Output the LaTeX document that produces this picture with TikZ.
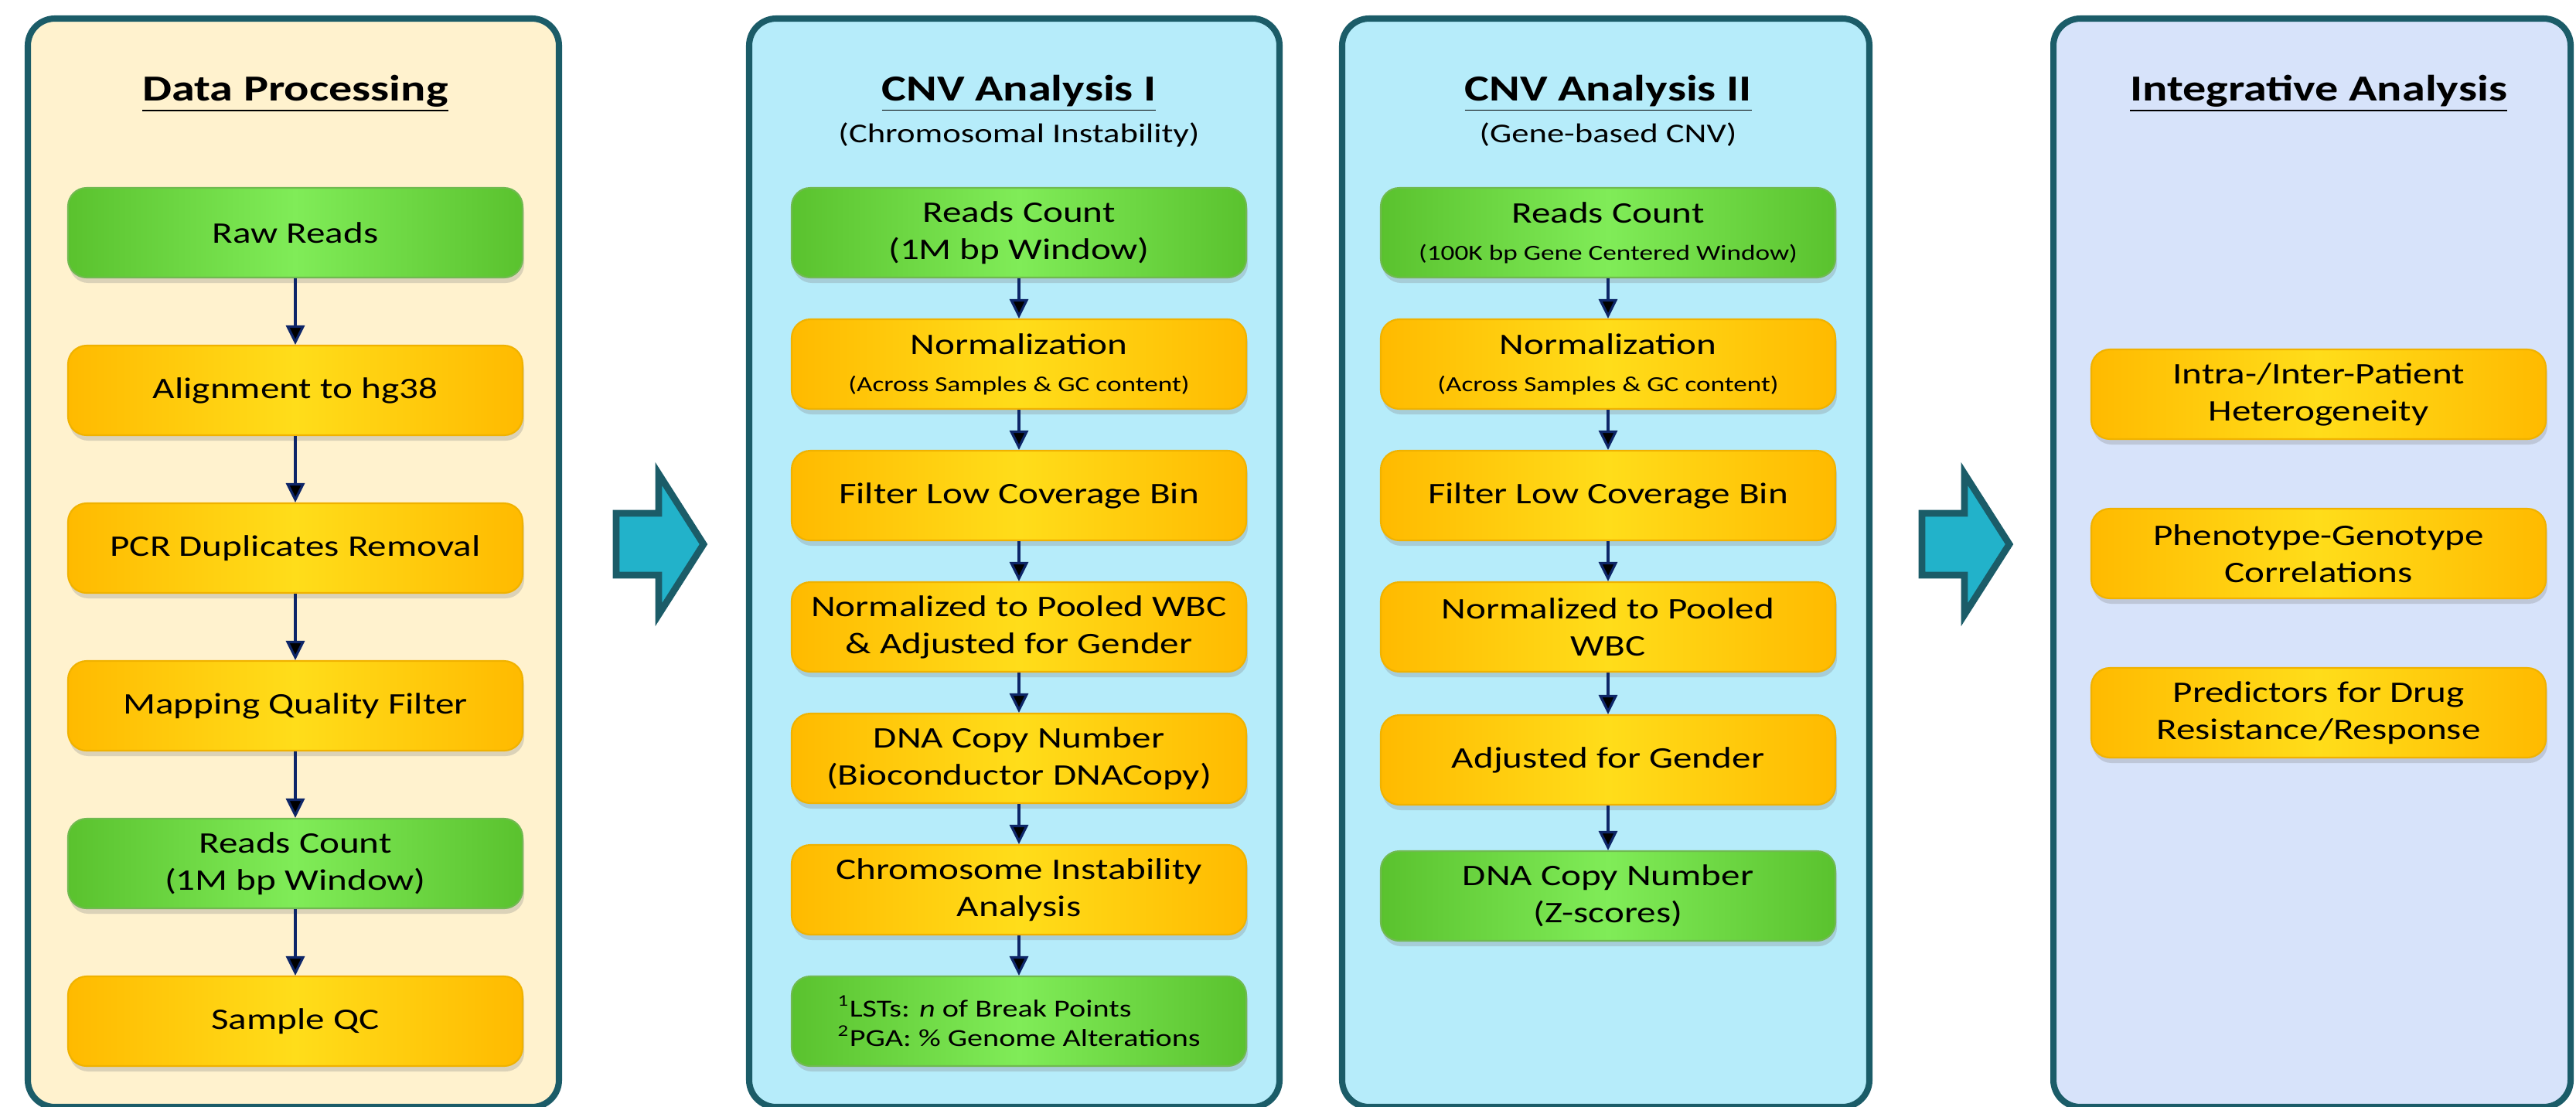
\documentclass[tikz,border=0pt]{standalone}
\usepackage{fontspec}
\setmainfont[FakeStretch=1.27]{Carlito}
\usepackage{tikz}
\usetikzlibrary{positioning,shadows,arrows.meta}
\definecolor{panelline}{RGB}{27,92,104}
\definecolor{cream}{RGB}{255,242,206}
\definecolor{skyfill}{RGB}{182,236,250}
\definecolor{lavfill}{RGB}{215,227,250}
\definecolor{ambedge}{RGB}{255,186,0}
\definecolor{ambmid}{RGB}{255,221,26}
\definecolor{ambline}{RGB}{240,178,0}
\definecolor{grnedge}{RGB}{90,194,46}
\definecolor{grnmid}{RGB}{128,236,88}
\definecolor{grnline}{RGB}{112,186,80}
\definecolor{navy}{RGB}{14,38,104}
\definecolor{cyanarrow}{RGB}{34,178,202}
\newcommand{\smallnote}[1]{{\fontsize{7.9}{9.5}\selectfont #1}}
\tikzset{>={Triangle[length=0.25cm,width=0.24cm]},on grid,node distance=1.7cm,
  panel/.style={draw=panelline,line width=2.3pt,rounded corners=0.35cm},
  flowbox/.style={rounded corners=0.24cm,minimum width=5.88cm,minimum height=1.16cm,align=center,
    font=\fontsize{11}{13.6}\selectfont,line width=0.6pt,
    drop shadow={shadow xshift=0.02cm,shadow yshift=-0.07cm,opacity=0.28}},
  orangebox/.style={flowbox,draw=ambline,left color=ambedge,right color=ambedge,middle color=ambmid},
  greenbox/.style={flowbox,draw=grnline,left color=grnedge,right color=grnedge,middle color=grnmid},
  flow/.style={->,draw=navy,line width=0.9pt},
  paneltitle/.style={font=\fontsize{13.5}{16}\selectfont\bfseries},
  panelsub/.style={font=\fontsize{10}{12}\selectfont},
  bigarrow/.style={draw=panelline,fill=cyanarrow,line width=2.5pt,line join=miter}}

\begin{document}
\begin{tikzpicture}
    \useasboundingbox (0,0) rectangle (33.32,-14.31);
    % panels
    \draw[panel,fill=cream] (0.36,-0.24) rectangle (7.23,-14.32);
    \draw[panel,fill=skyfill] (9.69,-0.24) rectangle (16.55,-14.32);
    \draw[panel,fill=skyfill] (17.36,-0.24) rectangle (24.18,-14.32);
    \draw[panel,fill=lavfill] (26.56,-0.24) rectangle (33.25,-14.32);

    % Data Processing
    \node[paneltitle] (t1) at (3.82,-1.21) {\underline{Data Processing}};
    \node[greenbox] (d1) at (3.82,-3.01) {Raw Reads};
    \node[orangebox] (d2) [below=2.04cm of d1] {Alignment to hg38};
    \node[orangebox] (d3) [below=2.04cm of d2] {PCR Duplicates Removal};
    \node[orangebox] (d4) [below=2.04cm of d3] {Mapping Quality Filter};
    \node[greenbox] (d5) [below=2.04cm of d4] {Reads Count\\(1M bp Window)};
    \node[orangebox] (d6) [below=2.04cm of d5] {Sample QC};
    \path[flow]
    (d1) edge (d2)
    (d2) edge (d3)
    (d3) edge (d4)
    (d4) edge (d5)
    (d5) edge (d6)
    ;

    % CNV Analysis I
    \node[paneltitle] (t2) at (13.18,-1.21) {\underline{CNV Analysis I}};
    \node[panelsub] (s2) at (13.18,-1.74) {(Chromosomal Instability)};
    \node[greenbox] (a1) at (13.18,-3.01) {Reads Count\\(1M bp Window)};
    \node[orangebox] (a2) [below of=a1] {Normalization\\\smallnote{(Across Samples \& GC content)}};
    \node[orangebox] (a3) [below of=a2] {Filter Low Coverage Bin};
    \node[orangebox] (a4) [below of=a3] {Normalized to Pooled WBC\\\& Adjusted for Gender};
    \node[orangebox] (a5) [below of=a4] {DNA Copy Number\\(Bioconductor DNACopy)};
    \node[orangebox] (a6) [below of=a5] {Chromosome Instability\\Analysis};
    \node[greenbox,align=left,font=\fontsize{9}{11}\selectfont] (a7) [below of=a6]
      {\textsuperscript{1}LSTs: \textit{n} of Break Points\\\textsuperscript{2}PGA: \% Genome Alterations};
    \path[flow]
    (a1) edge (a2)
    (a2) edge (a3)
    (a3) edge (a4)
    (a4) edge (a5)
    (a5) edge (a6)
    (a6) edge (a7)
    ;

    % CNV Analysis II
    \node[paneltitle] (t3) at (20.80,-1.21) {\underline{CNV Analysis II}};
    \node[panelsub] (s3) at (20.80,-1.74) {(Gene-based CNV)};
    \node[greenbox] (b1) at (20.80,-3.01) {Reads Count\\\smallnote{(100K bp Gene Centered Window)}};
    \node[orangebox] (b2) [below of=b1] {Normalization\\\smallnote{(Across Samples \& GC content)}};
    \node[orangebox] (b3) [below of=b2] {Filter Low Coverage Bin};
    \node[orangebox] (b4) [below of=b3] {Normalized to Pooled\\WBC};
    \node[orangebox] (b5) [below=1.72cm of b4] {Adjusted for Gender};
    \node[greenbox] (b6) [below=1.76cm of b5] {DNA Copy Number\\(Z-scores)};
    \path[flow]
    (b1) edge (b2)
    (b2) edge (b3)
    (b3) edge (b4)
    (b4) edge (b5)
    (b5) edge (b6)
    ;

    % Integrative Analysis
    \node[paneltitle] (t4) at (29.99,-1.21) {\underline{Integrative Analysis}};
    \node[orangebox] (i1) at (29.99,-5.10) {Intra-/Inter-Patient\\Heterogeneity};
    \node[orangebox] (i2) [below=2.06cm of i1] {Phenotype-Genotype\\Correlations};
    \node[orangebox] (i3) [below=2.06cm of i2] {Predictors for Drug\\Resistance/Response};

    % big arrows between panels
    \draw[bigarrow] (7.97,-6.64) -- (8.52,-6.64) -- (8.52,-6.13) -- (9.10,-7.04)
      -- (8.52,-7.95) -- (8.52,-7.44) -- (7.97,-7.44) -- cycle;
    \draw[bigarrow] (24.86,-6.64) -- (25.41,-6.64) -- (25.41,-6.13) -- (25.99,-7.04)
      -- (25.41,-7.95) -- (25.41,-7.44) -- (24.86,-7.44) -- cycle;
\end{tikzpicture}
\end{document}
